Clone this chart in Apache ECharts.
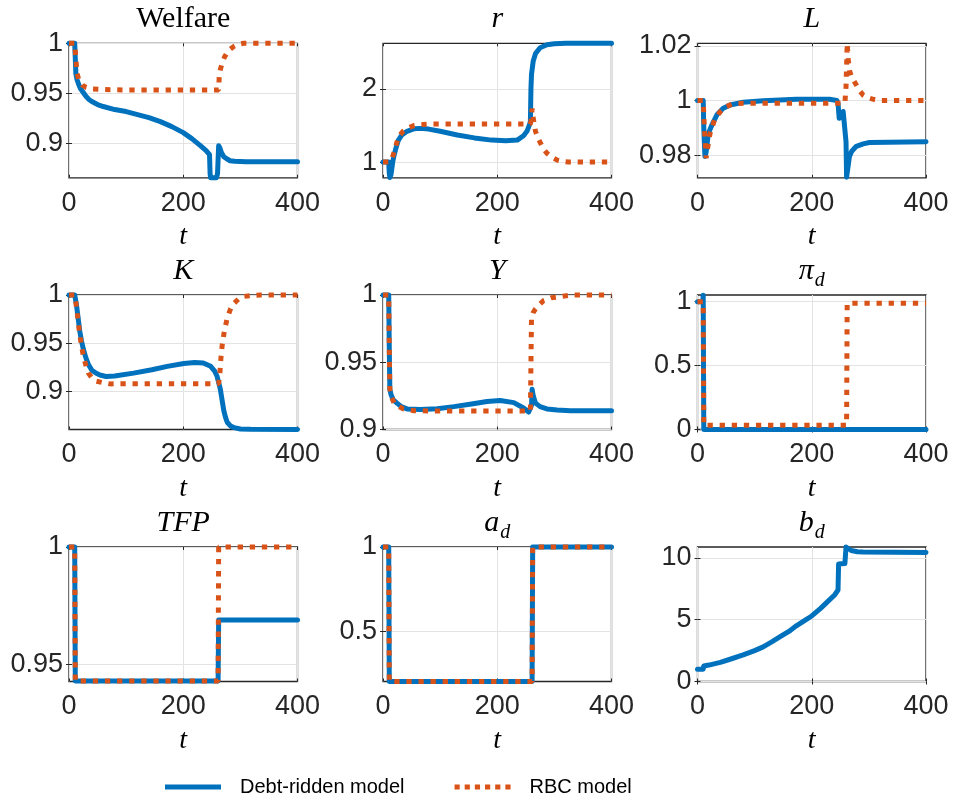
<!DOCTYPE html>
<html><head><meta charset="utf-8">
<script src="https://cdn.jsdelivr.net/npm/echarts@6/dist/echarts.min.js"></script>
<style>html,body{margin:0;padding:0;background:#fff}#c{width:954px;height:803px}</style>
</head><body><div id="c"></div>
<script>
// ---------------- data ----------------
const xTicks = [0, 200, 400];
const seriesNames = ['Debt-ridden model', 'RBC model'];

const welfareDebt = [[0,1],[10,1],[11,0.985],[12,0.970],[14,0.964],[17,0.959],[20,0.955],[25,0.951],[30,0.947],[35,0.944],[40,0.942],[50,0.939],[60,0.937],[80,0.934],[100,0.932],[120,0.929],[140,0.926],[160,0.922],[180,0.917],[200,0.911],[215,0.905],[230,0.898],[240,0.893],[246,0.889],[247,0.870],[248,0.866],[258,0.866],[260,0.870],[262,0.898],[264,0.896],[267,0.891],[271,0.887],[276,0.885],[282,0.883],[290,0.8825],[310,0.882],[400,0.882]];
const welfareRBC = [[0,1],[10,1],[12,0.985],[14,0.970],[17,0.964],[20,0.961],[24,0.958],[30,0.956],[40,0.9545],[55,0.954],[100,0.9535],[262,0.9535],[263,0.967],[265,0.974],[268,0.980],[272,0.986],[276,0.990],[282,0.994],[288,0.9967],[296,0.999],[306,1],[400,1]];

const rDebt = [[0,1],[10,1],[11,0.85],[12,0.79],[14,0.83],[17,1.0],[19,1.08],[23,1.2],[27,1.3],[33,1.37],[42,1.42],[55,1.455],[65,1.46],[80,1.45],[100,1.42],[130,1.37],[160,1.33],[190,1.30],[215,1.29],[235,1.30],[246,1.36],[252,1.42],[256,1.50],[258,1.55],[259,2.0],[260,2.2],[263,2.38],[267,2.48],[275,2.56],[287,2.60],[300,2.615],[320,2.62],[400,2.62]];
const rRBC = [[0,1],[10,1],[13,1.0],[15,1.03],[20,1.15],[27,1.345],[35,1.42],[42,1.46],[55,1.50],[65,1.51],[80,1.518],[258,1.518],[260,1.6],[261,1.73],[262,1.65],[264,1.55],[267,1.42],[271,1.33],[276,1.255],[281,1.18],[287,1.12],[295,1.07],[305,1.027],[315,1.008],[325,1.0],[400,1.0]];

const lDebt = [[0,1],[10,1],[11,0.99],[13,0.9796],[15,0.981],[19,0.988],[25,0.991],[34,0.9948],[45,0.9972],[57,0.9984],[80,0.9994],[115,0.9999],[173,1.0005],[231,1.0005],[244,1.0],[246,0.999],[248,0.9935],[252,0.994],[255,0.996],[258,0.996],[260,0.985],[261,0.972],[263,0.9725],[266,0.9796],[270,0.9815],[278,0.9833],[290,0.9842],[301,0.9847],[400,0.985]];
const lRBC = [[0,1],[10,1],[12,0.99],[15,0.979],[18,0.983],[22,0.988],[30,0.993],[40,0.996],[50,0.9978],[62,0.9988],[80,0.999],[258,0.999],[260,1.005],[262,1.0209],[264,1.015],[266,1.011],[270,1.0085],[278,1.0057],[284,1.0035],[290,1.002],[298,1.001],[307,1.0005],[320,1.0],[400,1.0]];

const kDebt = [[0,1],[10,1],[13,0.99],[16,0.976],[19,0.962],[22,0.952],[25,0.944],[30,0.934],[34,0.928],[40,0.922],[47,0.919],[54,0.917],[65,0.9155],[80,0.916],[113,0.919],[145,0.9225],[172,0.926],[201,0.929],[220,0.930],[235,0.9295],[248,0.926],[255,0.921],[259,0.916],[262,0.909],[265,0.902],[268,0.891],[271,0.880],[274,0.873],[277,0.868],[283,0.864],[289,0.8625],[300,0.861],[318,0.8607],[400,0.8605]];
const kRBC = [[0,1],[10,1],[13,0.988],[16,0.973],[19,0.958],[22,0.947],[25,0.937],[30,0.926],[34,0.919],[40,0.914],[48,0.9106],[60,0.909],[72,0.9078],[90,0.908],[262,0.908],[264,0.918],[266,0.935],[268,0.947],[272,0.963],[277,0.976],[283,0.986],[289,0.9915],[297,0.996],[306,0.9985],[320,0.9995],[335,1.0],[400,1.0]];

const yDebt = [[0,1],[10,1],[11,0.96],[12,0.93],[14,0.926],[18,0.922],[24.5,0.9196],[32,0.917],[42,0.9153],[65,0.9148],[95,0.9155],[124,0.917],[155,0.919],[182,0.9208],[205,0.9215],[229,0.92],[246,0.916],[255,0.913],[258,0.912],[260,0.918],[261,0.930],[263,0.925],[267,0.9196],[275,0.917],[287,0.9153],[305,0.9145],[328,0.914],[400,0.914]];
const yRBC = [[0,1],[10,1],[11,0.96],[12,0.93],[15,0.924],[20,0.919],[28,0.917],[36,0.9153],[54,0.914],[100,0.9137],[258,0.9137],[259,0.95],[260,0.9835],[263,0.987],[267,0.9897],[274,0.993],[281,0.9958],[295,0.998],[311,0.9988],[330,1.0],[400,1.0]];

const piDebt = [[0,1],[9,1],[10,1.05],[11,0],[400,0]];
const piRBC = [[0,1],[10,1],[11,0.033],[261,0.033],[262,0.987],[400,0.987]];

const tfpDebt = [[0,1],[10,1],[11,0.943],[261,0.943],[262,0.969],[400,0.969]];
const tfpRBC = [[0,1],[10,1],[11,0.943],[261,0.943],[262,1],[400,1]];

const adDebt = [[0,1],[10,1],[11,0.2],[261,0.2],[262,1],[400,1]];
const adRBC = [[0,1],[10,1],[11,0.2],[261,0.2],[262,1],[400,1]];

const bdDebt = [[0,1],[10,1],[11,1.25],[20,1.33],[40,1.55],[57,1.8],[80,2.15],[100,2.5],[115,2.8],[130,3.2],[144,3.6],[160,4.05],[173,4.5],[190,5.0],[200,5.3],[215,5.9],[231,6.6],[240,7.0],[246,7.4],[247,9.5],[258,9.54],[260,10.88],[263,10.8],[269,10.6],[280,10.5],[290,10.47],[400,10.43]];

const panelTitles = ['{w|Welfare}','{m|r}','{m|L}','{m|K}','{m|Y}','{m|π}{s|d}','{m|TFP}','{m|a}{s|d}','{m|b}{s|d}'];
const yRanges = [[0.866,1.0],[0.786,2.62],[0.9718,1.0209],[0.8605,1.0],[0.9,1.0],[0,1.052],[0.9428,1.0],[0.2,1.0],[0,10.88]];
const yTicks = [[0.9,0.95,1],[1,2],[0.98,1,1.02],[0.9,0.95,1],[0.9,0.95,1],[0,0.5,1],[0.95,1],[0.5,1],[0,5,10]];
const debtSeries = [welfareDebt,rDebt,lDebt,kDebt,yDebt,piDebt,tfpDebt,adDebt,bdDebt];
const rbcSeries  = [welfareRBC,rRBC,lRBC,kRBC,yRBC,piRBC,tfpRBC,adRBC,null];

// ---------------- layout & style ----------------
const colLeft = [69, 383, 697.5], colW = 228.5;
const rowTop = [43.3, 295, 547], rowH = 134.5;
const BLUE = '#0072BD', RED = '#D95319', AX = '#262626';
const tickFont = {fontFamily:'Liberation Sans, Arial, sans-serif', fontSize:27, color:AX};
const serif = 'Liberation Serif, Times New Roman, serif';

const grids = [], xAxes = [], yAxes = [], series = [], titles = [];
for (let i = 0; i < 9; i++) {
  const c = i % 3, r = Math.floor(i / 3);
  grids.push({left: colLeft[c], top: rowTop[r], width: colW, height: rowH, show: true,
    borderColor: AX, borderWidth: 1.3, backgroundColor: 'transparent', containLabel: false, outerBoundsMode: 'none'});
  titles.push({text: panelTitles[i], left: colLeft[c] + colW / 2, top: rowTop[r] - 39, textAlign: 'center', padding: 0,
    textStyle: {fontWeight:'normal', rich: {
      w: {fontFamily:serif, fontWeight:'normal', fontSize:30, lineHeight:30, color:'#000', verticalAlign:'top'},
      m: {fontFamily:serif, fontWeight:'normal', fontStyle:'italic', fontSize:30, lineHeight:30, color:'#000', verticalAlign:'top'},
      s: {fontFamily:serif, fontWeight:'normal', fontStyle:'italic', fontSize:20, lineHeight:20, padding:[15,0,0,1], color:'#000', verticalAlign:'top'}
    }}});
  const xBase = {type:'value', gridIndex:i, min:0, max:400, interval:200};
  xAxes.push(Object.assign({}, xBase, {position:'bottom',
    axisLine:{show:false}, axisTick:{show:true, inside:true, length:3, lineStyle:{color:AX, width:1}},
    axisLabel:{show:true, margin:12, ...tickFont},
    splitLine:{show:true, lineStyle:{color:'#e3e3e3', width:1}},
    name:'t', nameLocation:'middle', nameGap:45,
    nameTextStyle:{fontFamily:serif, fontStyle:'italic', fontWeight:'normal', fontSize:28, color:'#000'}}));
  xAxes.push(Object.assign({}, xBase, {position:'top',
    axisLine:{show:false}, axisTick:{show:true, inside:true, length:3, lineStyle:{color:AX, width:1}},
    axisLabel:{show:false}, splitLine:{show:false}}));
  const yBase = {type:'value', gridIndex:i, min:yRanges[i][0], max:yRanges[i][1], scale:true};
  yAxes.push(Object.assign({}, yBase, {position:'left',
    axisLine:{show:false}, axisTick:{show:true, inside:true, length:3, customValues: yTicks[i], lineStyle:{color:AX, width:1}},
    axisLabel:{show:true, margin:6, customValues: yTicks[i], ...tickFont},
    splitLine:{show:true, lineStyle:{color:'#e3e3e3', width:1}}}));
  yAxes.push(Object.assign({}, yBase, {position:'right',
    axisLine:{show:false}, axisTick:{show:true, inside:true, length:3, customValues: yTicks[i], lineStyle:{color:AX, width:1}},
    axisLabel:{show:false}, splitLine:{show:false}}));
  series.push({type:'line', name: seriesNames[0], xAxisIndex: 2*i, yAxisIndex: 2*i, data: debtSeries[i],
    showSymbol:false, symbol:'none', clip:false, z:2, animation:false,
    lineStyle:{color:BLUE, width:5, cap:'round', join:'round'}, itemStyle:{color:BLUE}});
  if (rbcSeries[i]) {
    series.push({type:'line', name: seriesNames[1], xAxisIndex: 2*i, yAxisIndex: 2*i, data: rbcSeries[i],
      showSymbol:false, symbol:'none', clip:false, z:3, animation:false,
      lineStyle:{color:RED, width:5, type:[5.3,6.8], cap:'butt', join:'bevel'}, itemStyle:{color:RED}});
  }
}

const dotIcon = 'path://M0 0h5.3v5h-5.3zM10.4 0h5.3v5h-5.3zM20.8 0h5.3v5h-5.3zM31.2 0h5.3v5h-5.3zM41.6 0h5.3v5h-5.3zM52 0h5.3v5h-5.3z';
const chart = echarts.init(document.getElementById('c'), null, {renderer:'canvas'});
chart.setOption({
  backgroundColor:'#fff',
  animation:false,
  title: titles,
  grid: grids,
  xAxis: xAxes,
  yAxis: yAxes,
  legend: {data: [{name: seriesNames[0], icon:'rect'}, {name: seriesNames[1], icon: dotIcon}],
    left:165, top:777, orient:'horizontal', itemWidth:56, itemHeight:5, itemGap:50,
    symbolKeepAspect:false, selectedMode:false, padding:0,
    textStyle:{fontFamily:'Liberation Sans, Arial, sans-serif', fontSize:20, color:'#000', padding:[0,0,0,14]}},
  series: series
});
</script>
</body></html>
